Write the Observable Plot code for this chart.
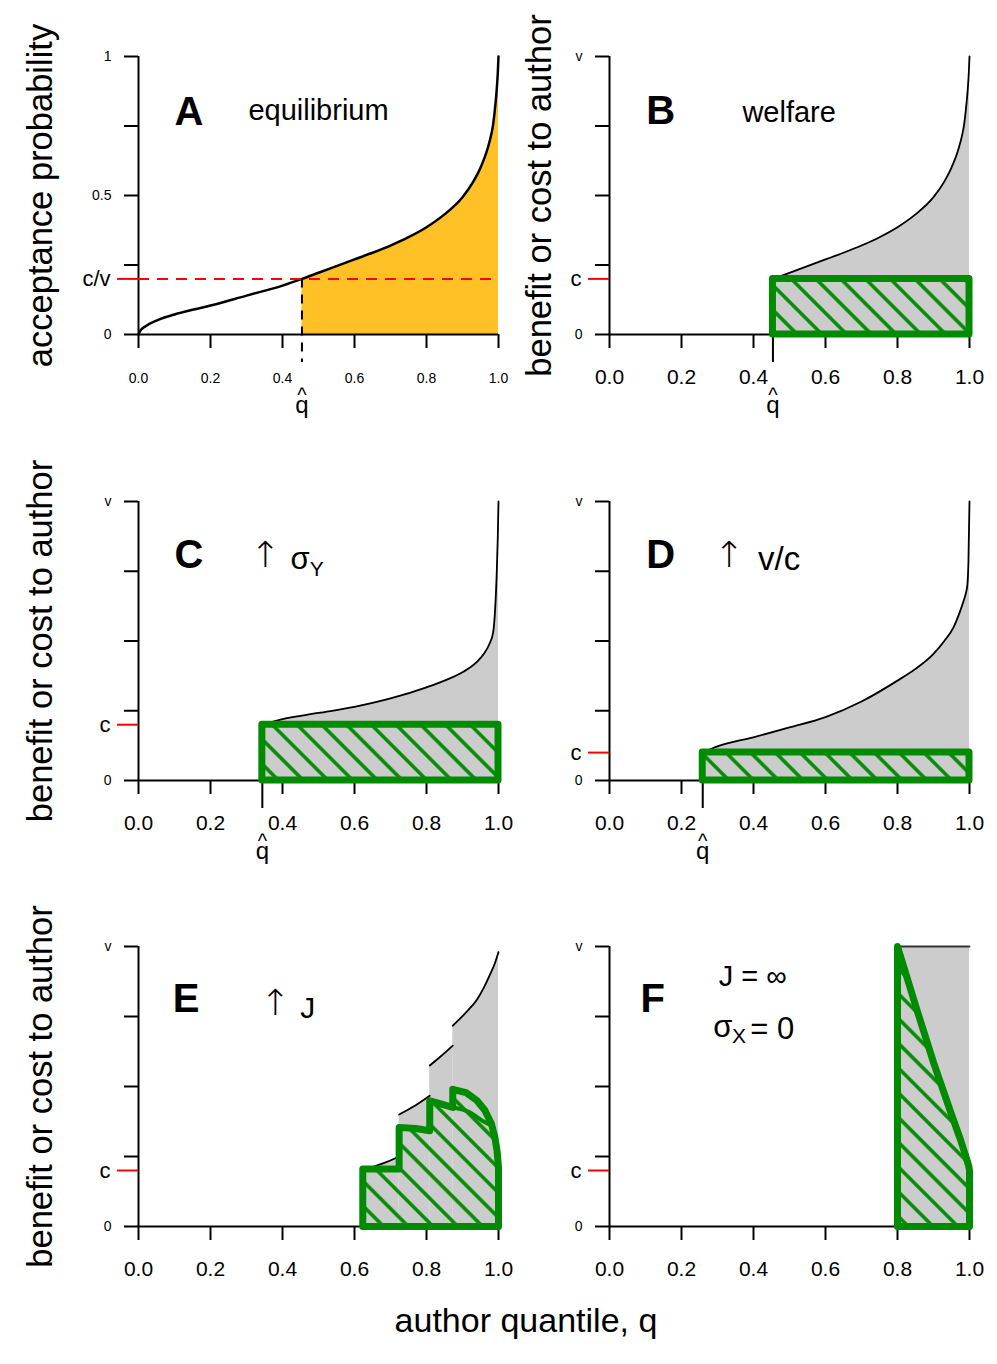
<!DOCTYPE html>
<html><head><meta charset="utf-8">
<script src="https://cdn.jsdelivr.net/npm/d3@7"></script>
<script src="https://cdn.jsdelivr.net/npm/@observablehq/plot@0.6"></script>
<style>
body{margin:0;background:#fff;}
#wrap{position:relative;width:997px;height:1364px;font-family:"Liberation Sans",Arial,sans-serif;color:#000;}
.panel{position:absolute;}
.panel svg{overflow:visible;background:transparent;}
#xtitle{position:absolute;left:0;width:1052px;top:1303px;text-align:center;font-size:34px;line-height:34px;}
</style></head><body><div id="wrap"><div id="xtitle">author quantile, q</div></div>
<script>
// ---------- data ----------
const qTicks = [0, 0.2, 0.4, 0.6, 0.8, 1.0];
const vTicks = [0, 0.25, 0.5, 0.75, 1];
const vTickLabelsA = ["0", "", "0.5", "", "1"];
const vTickLabels = ["0", "", "", "", "v"];
const panelLetters = ["A", "B", "C", "D", "E", "F"];
const panelTitles = ["equilibrium", "welfare"];
const yTitles = ["acceptance probability", "benefit or cost to author"];

// Panel A / B curve
const qAB = [0, 0.005, 0.02, 0.05, 0.1, 0.15, 0.2, 0.3, 0.4, 0.454, 0.5, 0.55, 0.6, 0.65, 0.7, 0.75, 0.8, 0.85, 0.9, 0.93, 0.95, 0.97, 0.98, 0.985, 0.99, 0.995, 0.998, 1];
const vAB = [0, 0.014, 0.03, 0.05, 0.072, 0.089, 0.104, 0.14, 0.176, 0.2, 0.222, 0.246, 0.27, 0.294, 0.32, 0.35, 0.386, 0.432, 0.494, 0.55, 0.6, 0.67, 0.72, 0.755, 0.81, 0.88, 0.94, 1];
const qhatAB = 0.454, cAB = 0.2;

// Panel C
const qC = [0.344, 0.4, 0.5, 0.6, 0.7, 0.8, 0.85, 0.9, 0.94, 0.96, 0.975, 0.985, 0.99, 0.995, 0.998, 1];
const vC = [0.2, 0.22, 0.242, 0.264, 0.294, 0.334, 0.358, 0.388, 0.425, 0.455, 0.49, 0.53, 0.6, 0.74, 0.87, 1];
const qhatC = 0.344, cC = 0.2;

// Panel D
const qD = [0.259, 0.3, 0.4, 0.5, 0.6, 0.7, 0.8, 0.85, 0.9, 0.93, 0.956, 0.972, 0.984, 0.99, 0.994, 0.997, 1];
const vD = [0.1, 0.122, 0.155, 0.19, 0.227, 0.283, 0.358, 0.4, 0.454, 0.5, 0.55, 0.6, 0.645, 0.672, 0.7, 0.78, 1];
const qhatD = 0.259, cD = 0.1;

// Panel E (stepped benefit, one segment per step)
const segE = [1, 1, 1, 1, 2, 2, 2, 3, 3, 3, 4, 4, 4, 4, 4, 4, 4];
const qE = [0.623, 0.66, 0.69, 0.724, 0.724, 0.77, 0.809, 0.809, 0.84, 0.873, 0.873, 0.91, 0.94, 0.96, 0.98, 0.99, 1.0];
const vE = [0.2, 0.217, 0.231, 0.249, 0.4, 0.433, 0.467, 0.575, 0.608, 0.646, 0.717, 0.765, 0.81, 0.855, 0.91, 0.94, 0.98];
const qEgreen = [0.623, 0.623, 0.724, 0.724, 0.77, 0.809, 0.809, 0.84, 0.873, 0.873, 0.91, 0.94, 0.962, 0.98, 0.99, 0.996, 1, 1, 0.623];
const vEgreen = [0, 0.205, 0.205, 0.354, 0.35, 0.342, 0.449, 0.438, 0.425, 0.49, 0.478, 0.45, 0.415, 0.368, 0.318, 0.27, 0.21, 0, 0];
const qElens = [0.873, 0.92, 0.955, 0.982];
const vElens = [0.425, 0.408, 0.378, 0.36];
const cE = 0.2;

// Panel F
const qFtop = [0.8, 1];
const vFtop = [1, 1];
const qFgreen = [0.8, 0.8, 0.85, 0.9, 0.95, 0.975, 0.99, 0.998, 1, 1, 0.8];
const vFgreen = [0, 1, 0.79, 0.586, 0.4, 0.31, 0.25, 0.215, 0.2, 0, 0];
const cF = 0.2;

// ---------- helpers ----------
const GREEN = "#008B00", GREY = "#CCCCCC", ORANGE = "#FFC125";
const SMOOTH = "monotone-x";
const rows = (qs, vs, extra) => qs.map((q, i) => ({q, v: vs[i], ...(extra ? {s: extra[i]} : {})}));
const dataAB = rows(qAB, vAB), dataC = rows(qC, vC), dataD = rows(qD, vD);
const dataE = rows(qE, vE, segE), dataEgreen = rows(qEgreen, vEgreen), dataElens = rows(qElens, vElens);
const dataFtop = rows(qFtop, vFtop), dataFgreen = rows(qFgreen, vFgreen);

const txt = (s, q, v, o = {}) => Plot.text([s], {x: () => q, y: () => v, text: d => d, ...o});
const letter = (s, q, v) => txt(s, q, v, {fontSize: 40, fontWeight: "bold"});
const arrowUp = (q, v) => txt("↑", q, v, {fontSize: 36, fontFamily: "DejaVu Sans", fontWeight: 200});
const fillUnder = (data, fill, o = {}) => Plot.areaY(data, {x: "q", y1: 0, y2: "v", fill, curve: SMOOTH, ...o});
const curveLine = (data, o = {}) => Plot.line(data, {x: "q", y: "v", strokeWidth: 1.8, curve: SMOOTH, ...o});

function hatchRect(qhat, c, id) {
  return Plot.rect([{q1: qhat, q2: 1, v1: 0, v2: c}], {x1: "q1", x2: "q2", y1: "v1", y2: "v2",
    fill: `url(#${id})`, stroke: GREEN, strokeWidth: 7, strokeLinejoin: "round"});
}
function qhatLabel(qhat) {
  return [
    Plot.text([qhat], {x: d => d, frameAnchor: "bottom", dy: 53, text: () => "^", fontSize: 20, lineAnchor: "top"}),
    Plot.text([qhat], {x: d => d, frameAnchor: "bottom", dy: 61, text: () => "q", fontSize: 24, lineAnchor: "top"})
  ];
}

function makePanel(p) {
  const marks = [
    ...p.under,
    Plot.ruleX([0], {strokeWidth: 2}),
    Plot.ruleY([0], {strokeWidth: 2}),
    Plot.axisX({ticks: qTicks, tickSize: 14, tickPadding: p.small ? 25 : 21, fontSize: p.small ? 14 : 21,
      strokeWidth: 2, tickFormat: d3.format(".1f"), label: null}),
    Plot.axisY({ticks: vTicks, tickSize: 14, tickPadding: 13, fontSize: 14, strokeWidth: 2,
      tickFormat: (d, i) => p.vLabels[i], label: null}),
    Plot.axisY({ticks: [p.c], tickSize: 21, tickPadding: 7, stroke: "red", strokeWidth: 2, fontSize: 22,
      tickFormat: () => p.cLabel, label: null}),
    ...p.over
  ];
  if (p.yTitle) marks.push(Plot.text([p.yTitle], {frameAnchor: "left", textAnchor: "middle", lineAnchor: "middle",
    rotate: -90, dx: p.titleDx, fontSize: 34.5, text: d => d}));
  const svg = Plot.plot({
    width: p.w, height: p.h,
    marginLeft: p.ml, marginRight: p.w - p.ml - 360, marginTop: p.mt, marginBottom: p.mb,
    x: {domain: [0, 1], axis: null}, y: {domain: [0, 1], axis: null},
    style: {fontFamily: "'Liberation Sans', Arial, sans-serif", fontSize: "14px", overflow: "visible", background: "transparent", color: "black"},
    marks
  });
  d3.select(svg).insert("defs", ":first-child").html(
    `<pattern id="${p.id}" patternUnits="userSpaceOnUse" width="17.5" height="17.5" patternTransform="rotate(-45)">` +
    `<line x1="8.75" y1="-1" x2="8.75" y2="18.5" stroke="${GREEN}" stroke-width="3.5"/></pattern>`);
  const div = document.createElement("div");
  div.className = "panel";
  div.style.left = p.left + "px"; div.style.top = p.top + "px"; div.style.width = p.w + "px";
  div.appendChild(svg);
  document.getElementById("wrap").appendChild(div);
}

const L = {left: 0, w: 520, ml: 138}, R = {left: 500, w: 497, ml: 109};
const R1 = {top: 0, h: 440, mt: 56, mb: 106}, R2 = {top: 440, h: 440, mt: 61, mb: 100}, R3 = {top: 880, h: 440, mt: 66, mb: 94};

// Panel A
makePanel({...L, ...R1, id: "hA", small: true, vLabels: vTickLabelsA, c: cAB, cLabel: "c/v", yTitle: yTitles[0], titleDx: -97.5,
  under: [fillUnder(dataAB.filter(d => d.q >= qhatAB), ORANGE)],
  over: [
    curveLine(dataAB, {strokeWidth: 2.5}),
    Plot.ruleY([cAB], {stroke: "red", strokeWidth: 2, strokeDasharray: "11,8"}),
    Plot.ruleX([qhatAB], {y1: cAB, y2: 0, insetBottom: -28, strokeWidth: 2, strokeDasharray: "9,7"}),
    ...qhatLabel(qhatAB),
    letter(panelLetters[0], 0.14, 0.80),
    txt(panelTitles[0], 0.5, 0.806, {fontSize: 29})
  ]});

// Panel B
makePanel({...R, ...R1, id: "hB", vLabels: vTickLabels, c: cAB, cLabel: "c", yTitle: yTitles[1], titleDx: -70,
  under: [fillUnder(dataAB.filter(d => d.q >= qhatAB), GREY)],
  over: [
    curveLine(dataAB.filter(d => d.q >= qhatAB)),
    Plot.ruleX([qhatAB], {y1: 0, y2: 0, insetBottom: -28, strokeWidth: 2}),
    hatchRect(qhatAB, cAB, "hB"),
    ...qhatLabel(qhatAB),
    letter(panelLetters[1], 0.142, 0.803),
    txt(panelTitles[1], 0.499, 0.796, {fontSize: 29})
  ]});

// Panel C
makePanel({...L, ...R2, id: "hC", vLabels: vTickLabels, c: cC, cLabel: "c", yTitle: yTitles[1], titleDx: -97.5,
  under: [fillUnder(dataC, GREY)],
  over: [
    curveLine(dataC),
    Plot.ruleX([qhatC], {y1: 0, y2: 0, insetBottom: -28, strokeWidth: 2}),
    hatchRect(qhatC, cC, "hC"),
    ...qhatLabel(qhatC),
    letter(panelLetters[2], 0.14, 0.807),
    arrowUp(0.352, 0.808),
    txt("σ", 0.449, 0.792, {fontSize: 31}),
    txt("Y", 0.495, 0.758, {fontSize: 21})
  ]});

// Panel D
makePanel({...R, ...R2, id: "hD", vLabels: vTickLabels, c: cD, cLabel: "c",
  under: [fillUnder(dataD, GREY)],
  over: [
    curveLine(dataD),
    Plot.ruleX([qhatD], {y1: 0, y2: 0, insetBottom: -28, strokeWidth: 2}),
    hatchRect(qhatD, cD, "hD"),
    ...qhatLabel(qhatD),
    letter(panelLetters[3], 0.142, 0.807),
    arrowUp(0.332, 0.806),
    txt("v/c", 0.471, 0.792, {fontSize: 33})
  ]});

// Panel E
makePanel({...L, ...R3, id: "hE", vLabels: vTickLabels, c: cE, cLabel: "c", yTitle: yTitles[1], titleDx: -97.5,
  under: [fillUnder(dataE, GREY, {z: "s"})],
  over: [
    curveLine(dataE, {z: "s"}),
    Plot.line(dataEgreen, {x: "q", y: "v", fill: "url(#hE)", stroke: GREEN, strokeWidth: 7, strokeLinejoin: "round"}),
    Plot.line(dataElens, {x: "q", y: "v", stroke: GREEN, strokeWidth: 4, curve: SMOOTH}),
    letter(panelLetters[4], 0.132, 0.813),
    arrowUp(0.38, 0.795),
    txt("J", 0.47, 0.779, {fontSize: 30})
  ]});

// Panel F
makePanel({...R, ...R3, id: "hF", vLabels: vTickLabels, c: cF, cLabel: "c",
  under: [fillUnder(dataFtop, GREY)],
  over: [
    Plot.line(dataFtop, {x: "q", y: "v", stroke: "#333", strokeWidth: 1.8}),
    Plot.line(dataFgreen, {x: "q", y: "v", fill: "url(#hF)", stroke: GREEN, strokeWidth: 7, strokeLinejoin: "round"}),
    letter(panelLetters[5], 0.12, 0.813),
    txt("J = ∞", 0.398, 0.892, {fontSize: 29}),
    txt("σ", 0.315, 0.711, {fontSize: 31}),
    txt("X", 0.36, 0.679, {fontSize: 21}),
    txt("= 0", 0.391, 0.705, {fontSize: 31, textAnchor: "start"})
  ]});
</script></body></html>
